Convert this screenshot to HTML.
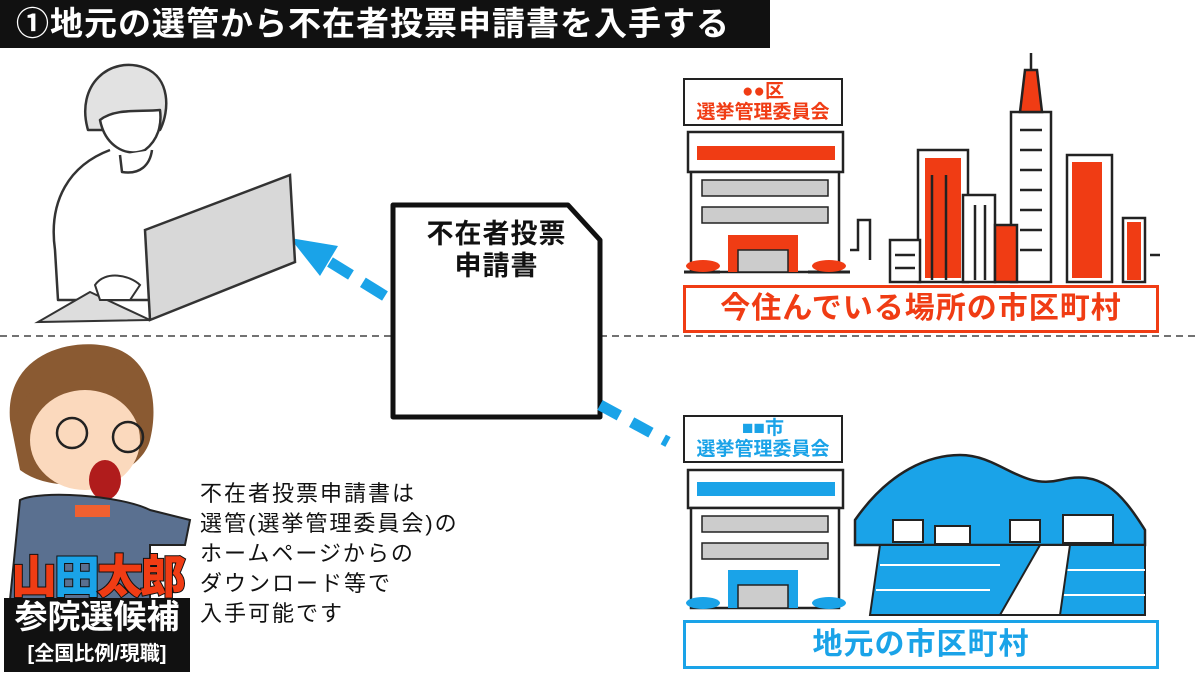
<!DOCTYPE html>
<html><head><meta charset="utf-8"><style>
body{margin:0;width:1200px;height:675px;background:#fff;overflow:hidden;position:relative;font-family:"Liberation Sans","Noto Sans CJK JP",sans-serif}
.a{position:absolute}
</style></head><body>
<div class="a" style="left:0;top:0;width:770px;height:48px;background:#111;color:#fff;font-weight:bold;font-size:33px;letter-spacing:1px;line-height:48px;padding-left:16px;box-sizing:border-box;white-space:nowrap">①地元の選管から不在者投票申請書を入手する</div>
<svg class="a" style="left:0;top:0" width="1200" height="675">
<line x1="0" y1="336" x2="1200" y2="336" stroke="#444" stroke-width="1.5" stroke-dasharray="7,5"/>
<polygon points="393,205 568,205 600,240 600,417 393,417" fill="#fff" stroke="#111" stroke-width="5" stroke-linejoin="round"/>
<line x1="385" y1="296" x2="330" y2="262" stroke="#1aa3e8" stroke-width="11" stroke-dasharray="26,14"/>
<polygon points="290,238 338,246 320,276" fill="#1aa3e8"/>
<line x1="600" y1="405" x2="668" y2="442" stroke="#1aa3e8" stroke-width="11" stroke-dasharray="22,14"/>
<!-- woman -->
<g stroke="#333" stroke-width="2.5" stroke-linejoin="round">
<path d="M88,130 C75,85 110,55 145,68 C170,78 170,110 160,130 Z" fill="#e2e2e2"/>
<path d="M100,120 C105,145 125,158 145,150 C158,140 162,125 160,110 C140,112 115,108 100,120 Z" fill="#fff"/>
<path d="M110,150 C70,165 48,200 55,250 L58,300 L150,300" fill="#fff"/>
<path d="M120,155 L122,172 C140,175 150,165 152,150" fill="#fff"/>
</g>
<polygon points="145,230 290,175 295,262 150,320" fill="#d8d8d8" stroke="#333" stroke-width="2.5"/>
<polygon points="90,292 150,320 38,322" fill="#ddd" stroke="#333" stroke-width="2"/>
<path d="M95,285 C105,270 130,275 140,285 L130,300 L100,300 Z" fill="#fff" stroke="#333" stroke-width="2"/>
<!-- red govt building -->
<g stroke="#222" stroke-width="2.5">
<rect x="688" y="132" width="155" height="40" fill="#fff"/>
<rect x="697" y="146" width="138" height="14" fill="#f03c14" stroke="none"/>
<rect x="691" y="172" width="148" height="100" fill="#fff"/>
<rect x="702" y="180" width="126" height="16" fill="#ccc" stroke-width="1.5"/>
<rect x="702" y="207" width="126" height="16" fill="#ccc" stroke-width="1.5"/>
<rect x="728" y="235" width="70" height="37" fill="#f03c14" stroke="none"/>
<rect x="738" y="250" width="50" height="22" fill="#ccc" stroke-width="1.5"/>
</g>
<path d="M684,272 L720,272 M808,272 L850,272" stroke="#222" stroke-width="3"/>
<ellipse cx="703" cy="266" rx="17" ry="6" fill="#f03c14"/><ellipse cx="829" cy="266" rx="17" ry="6" fill="#f03c14"/>
<!-- skyline -->
<g stroke="#222" stroke-width="2.5" fill="#fff">
<rect x="918" y="150" width="50" height="132"/>
<rect x="925" y="158" width="36" height="120" fill="#f03c14" stroke="none"/>
<rect x="963" y="195" width="32" height="87"/>
<rect x="890" y="240" width="30" height="42"/>
<rect x="1011" y="112" width="40" height="170"/>
<path d="M1020,112 L1025,70 L1037,70 L1042,112 Z" fill="#f03c14"/>
<line x1="1031" y1="70" x2="1031" y2="53"/>
<rect x="1067" y="155" width="45" height="127"/>
<rect x="1072" y="162" width="30" height="116" fill="#f03c14" stroke="none"/>
<rect x="995" y="225" width="22" height="57" fill="#f03c14"/>
<rect x="1123" y="218" width="22" height="64"/>
<rect x="1127" y="222" width="14" height="58" fill="#f03c14" stroke="none"/>
</g>
<g stroke="#222" stroke-width="2.5">
<line x1="1020" y1="130" x2="1042" y2="130"/><line x1="1020" y1="150" x2="1042" y2="150"/><line x1="1020" y1="170" x2="1042" y2="170"/><line x1="1020" y1="190" x2="1042" y2="190"/><line x1="1020" y1="210" x2="1042" y2="210"/><line x1="1020" y1="230" x2="1042" y2="230"/><line x1="1020" y1="250" x2="1042" y2="250"/>
<line x1="932" y1="175" x2="932" y2="280"/><line x1="946" y1="175" x2="946" y2="280"/><line x1="975" y1="205" x2="975" y2="280"/><line x1="985" y1="205" x2="985" y2="280"/>
<line x1="895" y1="255" x2="915" y2="255"/><line x1="895" y1="268" x2="915" y2="268"/>
<path d="M850,250 L858,250 L858,220 L870,220 L870,260 M1150,255 L1160,255" fill="none"/>
</g>
<!-- blue govt building -->
<g stroke="#222" stroke-width="2.5">
<rect x="688" y="470" width="155" height="38" fill="#fff"/>
<rect x="697" y="482" width="138" height="14" fill="#1aa3e8" stroke="none"/>
<rect x="691" y="508" width="148" height="100" fill="#fff"/>
<rect x="702" y="516" width="126" height="16" fill="#ccc" stroke-width="1.5"/>
<rect x="702" y="543" width="126" height="16" fill="#ccc" stroke-width="1.5"/>
<rect x="728" y="570" width="70" height="38" fill="#1aa3e8" stroke="none"/>
<rect x="738" y="585" width="50" height="23" fill="#ccc" stroke-width="1.5"/>
</g>
<ellipse cx="703" cy="603" rx="17" ry="6" fill="#1aa3e8"/><ellipse cx="829" cy="603" rx="17" ry="6" fill="#1aa3e8"/>
<!-- mountain/village -->
<path d="M855,520 C890,470 930,455 960,455 C1000,455 1020,490 1060,480 C1100,470 1120,490 1145,530 L1145,545 L855,545 Z" fill="#1aa3e8" stroke="#222" stroke-width="2.5"/>
<path d="M880,545 L1145,545 L1145,615 L870,615 Z" fill="#1aa3e8" stroke="#222" stroke-width="2"/>
<g stroke="#fff" stroke-width="2"><line x1="880" y1="565" x2="1000" y2="565"/><line x1="876" y1="590" x2="990" y2="590"/><line x1="1065" y1="570" x2="1145" y2="570"/><line x1="1062" y1="595" x2="1145" y2="595"/></g>
<path d="M1000,615 L1040,545 L1070,545 L1060,615 Z" fill="#fff" stroke="#222" stroke-width="2"/>
<g fill="#fff" stroke="#222" stroke-width="2"><rect x="893" y="520" width="30" height="22"/><rect x="935" y="526" width="35" height="18"/><rect x="1010" y="520" width="30" height="22"/><rect x="1063" y="515" width="50" height="28"/></g>
<!-- character -->
<path d="M10,420 C5,360 60,340 100,345 C150,350 160,400 150,440 C140,480 60,500 20,470 Z" fill="#8a5a32"/>
<ellipse cx="85" cy="440" rx="55" ry="50" fill="#fbd9bd"/>
<path d="M15,420 C30,370 80,360 140,400 L140,380 C120,340 40,340 15,400 Z" fill="#8a5a32"/>
<circle cx="72" cy="433" r="15" fill="none" stroke="#222" stroke-width="2.5"/><circle cx="128" cy="437" r="15" fill="none" stroke="#222" stroke-width="2.5"/>
<ellipse cx="105" cy="480" rx="16" ry="20" fill="#b01c1c"/>
<path d="M20,500 C40,490 120,495 150,510 L190,520 L185,545 L150,545 L150,600 L10,600 Z" fill="#5a7090" stroke="#222" stroke-width="2"/>
<rect x="75" y="505" width="35" height="12" fill="#f06030"/>
<rect x="4" y="598" width="186" height="74" fill="#111"/>
</svg>
<div class="a" style="left:0;top:552px;width:194px;text-align:center;font-weight:900;font-size:46px;line-height:50px;color:#f03c14;-webkit-text-stroke:2px #111;paint-order:stroke fill;letter-spacing:-3px">山<span style="color:#1aa3e8">田</span>太郎</div>
<div class="a" style="left:4px;top:598px;width:186px;text-align:center;font-weight:bold;font-size:33px;line-height:38px;color:#fff">参院選候補</div>
<div class="a" style="left:4px;top:637px;width:186px;text-align:center;font-weight:bold;font-size:20px;line-height:34px;color:#fff">[全国比例/現職]</div>
<div class="a" style="left:200px;top:479px;font-size:22px;letter-spacing:2px;line-height:30px;color:#111">不在者投票申請書は<br>選管(選挙管理委員会)の<br>ホームページからの<br>ダウンロード等で<br>入手可能です</div>
<div class="a" style="left:393px;top:218px;width:207px;text-align:center;font-weight:bold;font-size:27px;line-height:32px;color:#111;letter-spacing:1px">不在者投票<br>申請書</div>
<div class="a" style="left:683px;top:78px;width:160px;height:48px;box-sizing:border-box;border:2.5px solid #222;text-align:center;color:#f03c14;font-weight:bold;font-size:19px;line-height:21px;padding-top:1px">●●区<br>選挙管理委員会</div>
<div class="a" style="left:683px;top:415px;width:160px;height:48px;box-sizing:border-box;border:2.5px solid #222;text-align:center;color:#1aa3e8;font-weight:bold;font-size:19px;line-height:21px;padding-top:1px">■■市<br>選挙管理委員会</div>
<div class="a" style="left:683px;top:285px;width:476px;height:48px;box-sizing:border-box;border:3px solid #f03c14;text-align:center;color:#f03c14;font-weight:bold;font-size:30px;letter-spacing:1px;line-height:42px;background:#fff">今住んでいる場所の市区町村</div>
<div class="a" style="left:683px;top:620px;width:476px;height:49px;box-sizing:border-box;border:3px solid #1aa3e8;text-align:center;color:#1aa3e8;font-weight:bold;font-size:30px;letter-spacing:1px;line-height:43px;background:#fff">地元の市区町村</div>
</body></html>
